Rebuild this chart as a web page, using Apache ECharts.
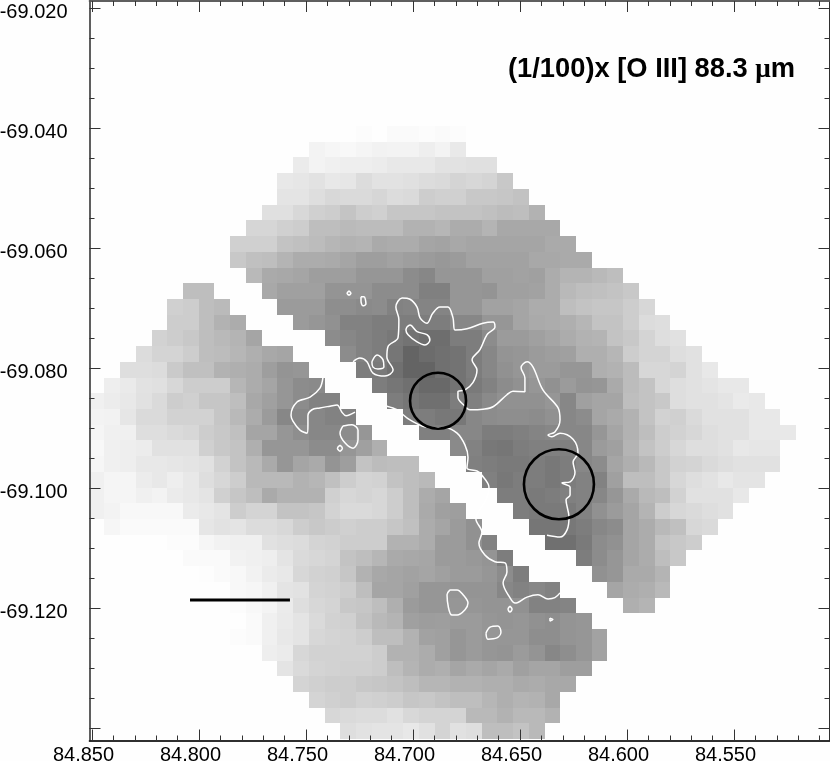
<!DOCTYPE html>
<html>
<head>
<meta charset="utf-8">
<style>
html, body { margin: 0; padding: 0; background: #fefefe; }
#chart { width: 830px; height: 761px; }
</style>
<script src="https://cdn.jsdelivr.net/npm/echarts@6/dist/echarts.min.js"></script>
</head>
<body>
<div id="chart"></div>
<script>
// image cells: [row, first column, grey levels...], a row can have two runs because of the gap
const greySegments = [
  [0,17,252,254,250,250,252,250,252],
  [1,14,243,246,248,245,242,243,243,238,243,233],
  [2,13,235,243,240,238,238,236,232,232,232,226,226,224,224],
  [3,12,232,230,226,232,230,220,226,226,224,220,218,212,215,212,200],
  [4,12,228,228,222,216,218,218,214,220,218,205,208,208,200,200,198,194],
  [5,11,224,224,216,208,205,196,205,208,198,198,198,195,195,195,192,188,190,178],
  [6,10,214,214,208,205,190,190,186,188,188,188,178,178,182,172,172,180,168,168,168,168],
  [7,9,208,208,208,195,192,188,182,178,180,170,172,172,165,163,168,165,165,165,165,165,170,170],
  [8,9,200,192,190,180,172,172,170,165,158,158,162,158,155,152,155,162,162,162,162,168,168,170,170],
  [9,10,185,170,168,165,158,158,158,150,150,150,140,135,150,150,150,160,160,162,160,172,180,180,185,190],
  [10,6,190,190],
  [10,11,168,160,160,160,148,148,148,140,140,140,128,128,150,150,148,160,160,162,172,185,190,192,195,200],
  [11,5,208,205,190,186],
  [11,12,155,155,155,142,142,138,140,130,132,132,132,150,150,162,162,165,172,172,190,195,198,198,205,215],
  [12,5,205,205,190,178,172],
  [12,13,155,150,145,130,130,125,125,125,125,125,135,135,150,150,165,170,172,175,182,195,195,205,220,222],
  [13,4,210,205,200,190,185,180,165],
  [13,15,140,135,130,125,120,115,110,110,125,125,140,155,155,160,165,172,178,180,195,200,212,222,225],
  [14,3,220,212,212,205,190,188,182,175,168,165],
  [14,16,140,130,125,118,100,108,112,115,125,135,148,150,155,158,160,175,175,182,205,212,212,222,225],
  [15,2,222,222,220,202,192,192,178,175,172,158,148,150],
  [15,17,125,122,112,100,100,112,115,125,135,145,150,155,155,150,150,175,178,188,215,215,212,225,232],
  [16,1,238,234,226,224,215,205,205,205,182,172,165,150,140,138],
  [16,18,125,118,112,105,105,115,122,130,140,145,150,145,155,148,150,170,188,195,215,222,225,228,232,232],
  [17,0,240,236,232,225,218,205,208,198,198,190,168,160,150,140,130,130],
  [17,19,125,118,112,112,125,128,138,145,145,145,150,135,160,165,165,190,195,200,222,225,225,228,234,232],
  [18,0,243,242,230,218,218,210,210,210,198,185,172,155,135,135,135,130,130],
  [18,20,125,125,120,120,135,140,142,142,140,145,135,140,165,170,178,195,210,208,218,225,225,225,232,232],
  [19,0,245,240,240,222,222,218,215,205,200,192,165,165,150,142,135,135,140,150],
  [19,21,128,128,135,135,125,125,128,132,135,135,135,150,165,178,190,205,210,215,222,225,225,232,232,232],
  [20,0,248,240,238,236,225,225,225,208,200,195,175,150,150,150,140,140,150,160,175],
  [20,23,138,130,120,118,125,128,128,128,135,155,160,180,195,205,215,222,222,225,232,230,230],
  [21,0,246,240,238,232,232,230,228,225,210,195,185,170,150,165,170,148,158,195,188,190,190],
  [21,24,128,125,122,122,125,120,125,135,140,165,175,185,200,210,212,218,222,225,225,225],
  [22,0,240,245,245,236,232,238,232,222,215,205,185,185,185,178,182,192,205,212,210,195,190,185],
  [22,25,128,120,125,125,120,125,130,130,160,190,190,200,215,222,226,232,228,228],
  [23,0,240,245,245,240,243,235,232,228,208,198,190,170,178,178,178,208,215,212,215,205,190,172,165],
  [23,26,125,125,122,125,128,130,135,150,170,185,190,210,225,225,225,232],
  [24,0,240,243,248,248,248,248,235,232,228,205,212,212,195,195,198,211,218,218,215,205,190,170,160,158],
  [24,27,125,122,122,122,130,145,155,165,180,205,215,218,222,225],
  [25,0,254,246,250,250,250,250,250,230,226,228,220,220,216,205,200,204,208,205,205,198,192,172,165,155,145],
  [25,28,118,118,120,125,135,140,165,172,185,192,215,218],
  [26,3,254,254,252,252,246,242,240,240,225,222,220,212,210,205,205,205,178,178,172,155,155,145,130],
  [26,29,112,112,122,140,145,165,172,195,200,205],
  [27,6,250,250,250,242,240,238,228,218,215,212,195,190,182,170,168,166,155,155,152,148,125],
  [27,31,125,140,150,165,172,190,200],
  [28,7,253,250,248,242,235,232,215,210,208,198,178,168,165,162,165,160,155,155,150,140,125],
  [28,32,145,150,170,170,180],
  [29,8,254,248,246,240,228,226,212,210,205,190,165,165,160,150,150,148,148,148,135,130,135,130],
  [29,33,165,172,175,185],
  [30,9,252,248,244,235,222,215,212,200,198,190,175,155,150,150,150,150,148,148,145,130,130,132],
  [30,34,175,180],
  [31,9,254,250,240,234,228,218,210,208,195,185,180,160,157,158,155,155,150,148,150,145,142,148,150],
  [32,9,252,250,240,232,228,215,212,210,205,190,190,178,162,160,150,155,150,150,150,142,142,148,150,162],
  [33,11,238,235,215,210,210,210,210,205,178,178,172,160,150,155,150,148,155,148,135,142,150,162],
  [34,12,228,218,212,210,208,208,205,190,180,172,175,165,170,165,170,160,165,165,158,158],
  [35,13,212,208,205,205,200,198,195,190,182,182,178,178,175,175,170,172,168,168],
  [36,14,212,208,205,210,208,205,198,200,195,190,190,182,175,180,178,168],
  [37,15,215,218,220,220,225,216,212,212,212,185,185,178,185,185,178],
  [38,16,222,226,228,228,232,225,212,225,222,190,190,195,185]
];

// pixel grid of the image, in degrees
const lonStart = 84.85154;
const lonStep = 0.007346;
const latStart = -69.03965;
const latStep = 0.002618;

// axis ticks
const xMajorTicks = [84.85, 84.8, 84.75, 84.7, 84.65, 84.6, 84.55];
const xMinorTicks = [84.84, 84.83, 84.82, 84.81, 84.79, 84.78, 84.77, 84.76, 84.74, 84.73, 84.72, 84.71,
  84.69, 84.68, 84.67, 84.66, 84.64, 84.63, 84.62, 84.61, 84.59, 84.58, 84.57, 84.56, 84.54, 84.53, 84.52, 84.51];
const yMajorTicks = [-69.02, -69.04, -69.06, -69.08, -69.1, -69.12, -69.14];
const yLabelTicks = [-69.02, -69.04, -69.06, -69.08, -69.1, -69.12];
const yMinorTicks = [-69.025, -69.03, -69.035, -69.045, -69.05, -69.055, -69.065, -69.07, -69.075,
  -69.085, -69.09, -69.095, -69.105, -69.11, -69.115, -69.125, -69.13, -69.135];

// white contours [lon, lat]
const contourA = [[84.7421,-69.0816],[84.7435,-69.0833],[84.7481,-69.0848],[84.7542,-69.0856],[84.7570,-69.0878],[84.7561,-69.0888],[84.7528,-69.0903],[84.7495,-69.0908],[84.7491,-69.0894],[84.7491,-69.0879],[84.7472,-69.0869],[84.7435,-69.0866],[84.7388,-69.0863],[84.7355,-69.0861],[84.7332,-69.0873],[84.7313,-69.0879],[84.7271,-69.0873]];
const contourB = [[84.7327,-69.0896],[84.7341,-69.0908],[84.7318,-69.0924],[84.7280,-69.0933],[84.7257,-69.0919],[84.7257,-69.0903],[84.7285,-69.0894],[84.7327,-69.0896]];
const contourC = [[84.7280,-69.0789],[84.7248,-69.0783],[84.7215,-69.0789],[84.7187,-69.0808],[84.7131,-69.0813],[84.7093,-69.0803],[84.7122,-69.0781],[84.7117,-69.0764],[84.7070,-69.0749],[84.7066,-69.0719],[84.7080,-69.0698],[84.7051,-69.0683],[84.7014,-69.0685],[84.6981,-69.0698],[84.6967,-69.0716],[84.6935,-69.0725],[84.6907,-69.0708],[84.6874,-69.0698],[84.6837,-69.0698],[84.6813,-69.0716],[84.6804,-69.0736],[84.6748,-69.0734],[84.6673,-69.0725],[84.6626,-69.0723],[84.6617,-69.0731],[84.6654,-69.0744],[84.6687,-69.0769],[84.6724,-69.0786],[84.6701,-69.0803],[84.6720,-69.0824],[84.6757,-69.0836],[84.6790,-69.0839],[84.6790,-69.0848],[84.6757,-69.0863],[84.6734,-69.0869],[84.6673,-69.0868],[84.6626,-69.0864],[84.6561,-69.0844],[84.6533,-69.0838],[84.6477,-69.0839],[84.6477,-69.0816],[84.6495,-69.0799],[84.6467,-69.0789],[84.6439,-69.0798],[84.6393,-69.0836],[84.6322,-69.0866],[84.6313,-69.0886],[84.6337,-69.0906],[84.6369,-69.0911],[84.6351,-69.0914],[84.6313,-69.0908],[84.6252,-69.0918],[84.6229,-69.0941],[84.6252,-69.0956],[84.6243,-69.0974],[84.6266,-69.0989],[84.6304,-69.0991],[84.6266,-69.0998],[84.6266,-69.1011],[84.6285,-69.1019],[84.6271,-69.1048],[84.6280,-69.1069],[84.6313,-69.1081],[84.6374,-69.1078]];
const contourD = [[84.7192,-69.0789],[84.7168,-69.0778],[84.7140,-69.0786],[84.7136,-69.0798],[84.7164,-69.0801],[84.7187,-69.0798],[84.7192,-69.0789]];
const contourE = [[84.7028,-69.0731],[84.7014,-69.0728],[84.6981,-69.0739],[84.6935,-69.0744],[84.6921,-69.0753],[84.6944,-69.0761],[84.6981,-69.0756],[84.7023,-69.0744],[84.7033,-69.0736],[84.7028,-69.0731]];
const contourF = [[84.7122,-69.0863],[84.7075,-69.0869],[84.7014,-69.0886],[84.6921,-69.0899],[84.6851,-69.0899],[84.6794,-69.0908],[84.6757,-69.0928],[84.6743,-69.0948],[84.6748,-69.0966],[84.6701,-69.0971],[84.6678,-69.0978],[84.6645,-69.0998],[84.6659,-69.1019],[84.6706,-69.1051],[84.6678,-69.1073],[84.6692,-69.1091],[84.6664,-69.1111],[84.6617,-69.1122],[84.6570,-69.1124],[84.6561,-69.1139],[84.6579,-69.1157],[84.6547,-69.1182],[84.6523,-69.1191],[84.6467,-69.1181],[84.6416,-69.1177],[84.6369,-69.1184],[84.6337,-69.1182],[84.6313,-69.1174]];
const contourG = [[84.6827,-69.1169],[84.6841,-69.1177],[84.6818,-69.1211],[84.6794,-69.1211],[84.6757,-69.1202],[84.6743,-69.1191],[84.6766,-69.1177],[84.6794,-69.1169],[84.6827,-69.1169]];
const contourH = [[84.6659,-69.1241],[84.6640,-69.1231],[84.6603,-69.1229],[84.6589,-69.1239],[84.6608,-69.1249],[84.6650,-69.1251],[84.6659,-69.1241]];
const ringA = [[84.7341,-69.0928],[84.7330,-69.0933],[84.7341,-69.0938],[84.7353,-69.0933],[84.7341,-69.0928]];
const ringB = [[84.7299,-69.0671],[84.7290,-69.0675],[84.7299,-69.0678],[84.7308,-69.0675],[84.7299,-69.0671]];
const ringC = [[84.7243,-69.0681],[84.7229,-69.0681],[84.7220,-69.0693],[84.7234,-69.0696],[84.7243,-69.0688],[84.7243,-69.0681]];
const ringD = [[84.6547,-69.1196],[84.6537,-69.1201],[84.6547,-69.1206],[84.6556,-69.1201],[84.6547,-69.1196]];
const ringE = [[84.6360,-69.1216],[84.6346,-69.1218],[84.6360,-69.1221],[84.6360,-69.1216]];
const contours = [contourA, contourB, contourC, contourD, contourE, contourF, contourG, contourH, ringA, ringB, ringC, ringD, ringE];

// black apertures and scale bar
const apertureCentres = [[84.6883, -69.0854], [84.6318, -69.0993]];
const apertureSizes = [56, 70];
const scaleBar = [[84.8042, -69.1186], [84.7575, -69.1186]];

const labelFont = 'Liberation Sans';

// 把每一段展开成 [lon, lat, grey]
const cellData = [];
greySegments.forEach(seg => {
    const row = seg[0];
    const first = seg[1];
    seg.slice(2).forEach((grey, i) => {
        const lon = lonStart - lonStep * (first + i + 0.5);
        const lat = latStart - latStep * (row + 0.5);
        cellData.push([lon, lat, grey]);
    });
});

function renderCell(params, api) {
    const lon = api.value(0);
    const lat = api.value(1);
    const grey = api.value(2);
    const p0 = api.coord([lon + lonStep / 2, lat + latStep / 2]);
    const p1 = api.coord([lon - lonStep / 2, lat - latStep / 2]);
    const x0 = Math.round(p0[0]);
    const y0 = Math.round(p0[1]);
    return {
        type: 'rect',
        shape: { x: x0, y: y0, width: Math.round(p1[0]) - x0, height: Math.round(p1[1]) - y0 },
        style: { fill: 'rgb(' + grey + ',' + grey + ',' + grey + ')' }
    };
}

function tickAxis(grid, position, min, max, ticks, len, color, inverse) {
    return {
        type: 'value',
        gridIndex: grid,
        position: position,
        min: min,
        max: max,
        inverse: inverse,
        scale: true,
        z: 10,
        splitLine: { show: false },
        axisLine: { show: true, onZero: false, lineStyle: { color: color, width: 1.5 } },
        axisTick: { show: true, inside: true, length: len, customValues: ticks, lineStyle: { color: '#333', width: 1 } },
        axisLabel: { show: false }
    };
}

const xMin = 84.85117;
const xMax = 84.50537;
const yMin = -69.14198;
const yMax = -69.01883;

const xBottom = tickAxis(0, 'bottom', xMax, xMin, xMajorTicks, 11, '#222', true);
xBottom.axisLabel = {
    show: true,
    customValues: xMajorTicks,
    formatter: v => v.toFixed(3),
    fontFamily: labelFont,
    fontSize: 20,
    color: '#000',
    margin: 5,
    padding: [0, 17, 0, 0]
};
const yLeft = tickAxis(0, 'left', yMin, yMax, yMajorTicks, 11, '#555', false);
yLeft.axisLabel = {
    show: true,
    customValues: yLabelTicks,
    formatter: v => v.toFixed(3),
    fontFamily: labelFont,
    fontSize: 20,
    color: '#000',
    margin: 22,
    verticalAlign: 'top',
    lineHeight: 8
};

const series = [{
    type: 'custom',
    renderItem: renderCell,
    data: cellData,
    encode: { x: 0, y: 1 },
    silent: true,
    z: 1
}];

contours.forEach(points => {
    series.push({
        type: 'line',
        data: points,
        showSymbol: false,
        smooth: 0.35,
        clip: true,
        silent: true,
        lineStyle: { color: '#fff', width: 1.5 },
        z: 3
    });
});

series.push({
    type: 'line',
    data: scaleBar,
    showSymbol: false,
    silent: true,
    lineStyle: { color: '#000', width: 3 },
    z: 4
});

series.push({
    type: 'scatter',
    data: apertureCentres,
    symbol: 'circle',
    symbolSize: (v, p) => apertureSizes[p.dataIndex],
    silent: true,
    itemStyle: { color: 'rgba(0,0,0,0)', borderColor: '#000', borderWidth: 2.6, opacity: 1 },
    z: 4
});

const chart = echarts.init(document.getElementById('chart'), null, { renderer: 'canvas' });
chart.setOption({
    animation: false,
    backgroundColor: '#fefefe',
    title: {
        left: 508,
        top: 56,
        padding: 0,
        text: '{a|(1/100)x [O III] 88.3 }{b|μ}{a|m}',
        textStyle: {
            rich: {
                a: { fontFamily: labelFont, fontSize: 27.3, fontWeight: 'bold', color: '#000' },
                b: { fontFamily: 'Liberation Serif', fontSize: 27.3, color: '#000' }
            }
        }
    },
    grid: [
        { left: 89.5, top: 1, width: 740, height: 739.5, outerBoundsMode: 'none' },
        { left: 89.5, top: 1, width: 740, height: 739.5, outerBoundsMode: 'none' }
    ],
    xAxis: [
        xBottom,
        tickAxis(0, 'top', xMax, xMin, xMajorTicks, 11, '#555', true),
        tickAxis(1, 'bottom', xMax, xMin, xMinorTicks, 5, '#222', true),
        tickAxis(1, 'top', xMax, xMin, xMinorTicks, 5, '#555', true)
    ],
    yAxis: [
        yLeft,
        tickAxis(0, 'right', yMin, yMax, yMajorTicks, 11, '#222', false),
        tickAxis(1, 'left', yMin, yMax, yMinorTicks, 5, '#555', false),
        tickAxis(1, 'right', yMin, yMax, yMinorTicks, 5, '#222', false)
    ],
    series: series
});
</script>
</body>
</html>
